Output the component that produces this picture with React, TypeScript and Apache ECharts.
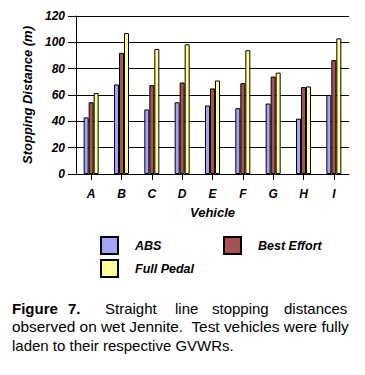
import React, { useEffect, useRef } from "react";
import * as echarts from "echarts";

const categories = ["A", "B", "C", "D", "E", "F", "G", "H", "I"];
const absValues = [43, 68, 49, 54.5, 52, 50, 53.5, 42, 60];
const bestEffortValues = [54.5, 92, 67.5, 69.5, 65, 69, 74, 66, 86.5];
const fullPedalValues = [61.5, 107, 95, 98.5, 71, 94, 77, 66.5, 103];
const yTicks = { min: 0, max: 120, interval: 20 };

const FONT = "'Liberation Sans', Arial, Helvetica, sans-serif";

export default function App() {
  const ref = useRef<HTMLDivElement>(null);
  useEffect(() => {
    document.body.style.margin = "0";
    const chart = echarts.init(ref.current!, null, { renderer: "svg" });
    const axisText = { color: "#000", fontFamily: FONT, fontSize: 12, fontWeight: "bold" as const, fontStyle: "italic" as const };
    const barBorder = { borderColor: "#000", borderWidth: 1 };
    const captionStyle = { fill: "#000", fontFamily: FONT, fontSize: 15, verticalAlign: "top" as const };
    chart.setOption({
      animation: false,
      backgroundColor: "#fff",
      grid: { left: 76, right: 16, top: 16, bottom: 201, containLabel: false },
      xAxis: {
        type: "category",
        data: categories,
        name: "Vehicle",
        nameLocation: "middle",
        nameGap: 32,
        nameTextStyle: { ...axisText, fontSize: 13 },
        axisLine: { show: true, lineStyle: { color: "#000", width: 1 } },
        axisTick: { show: true, alignWithLabel: true, length: 6, lineStyle: { color: "#000" } },
        axisLabel: { ...axisText, margin: 14 },
      },
      yAxis: {
        type: "value",
        min: yTicks.min,
        max: yTicks.max,
        interval: yTicks.interval,
        name: "Stopping Distance (m)",
        nameLocation: "middle",
        nameGap: 38,
        nameTextStyle: { ...axisText, fontSize: 13 },
        axisLine: { show: true, lineStyle: { color: "#000", width: 1 } },
        axisTick: { show: true, length: 8, lineStyle: { color: "#000" } },
        axisLabel: { ...axisText, margin: 11 },
        splitLine: { show: true, lineStyle: { color: "#000", width: 1 } },
      },
      legend: [
        {
          left: 95,
          top: 231,
          orient: "vertical",
          itemWidth: 17,
          itemHeight: 17,
          itemGap: 4,
          icon: "rect",
          data: ["ABS", "Full Pedal"],
          textStyle: { ...axisText, fontSize: 12.5, padding: [0, 0, 0, 12] },
        },
        {
          left: 218,
          top: 231,
          orient: "vertical",
          itemWidth: 17,
          itemHeight: 17,
          icon: "rect",
          data: ["Best Effort"],
          textStyle: { ...axisText, fontSize: 12.5, padding: [0, 0, 0, 12] },
        },
      ],
      series: [
        { name: "ABS", type: "bar", data: absValues, barWidth: 5, barGap: "0%", itemStyle: { color: "#A4A4F4", ...barBorder } },
        { name: "Best Effort", type: "bar", data: bestEffortValues, barWidth: 5, barGap: "0%", itemStyle: { color: "#A65252", ...barBorder } },
        { name: "Full Pedal", type: "bar", data: fullPedalValues, barWidth: 5, barGap: "0%", itemStyle: { color: "#FFFF99", ...barBorder } },
      ],
      graphic: [
        { type: "text", left: 12, top: 301, style: { ...captionStyle, text: "Figure", fontWeight: "bold" } },
        { type: "text", left: 68, top: 301, style: { ...captionStyle, text: "7.", fontWeight: "bold" } },
        { type: "text", left: 105, top: 301, style: { ...captionStyle, text: "Straight" } },
        { type: "text", left: 175, top: 301, style: { ...captionStyle, text: "line" } },
        { type: "text", left: 212, top: 301, style: { ...captionStyle, text: "stopping" } },
        { type: "text", left: 284, top: 301, style: { ...captionStyle, text: "distances" } },
        { type: "text", left: 12, top: 319, style: { ...captionStyle, fontSize: 15.4, text: "observed on wet Jennite.  Test vehicles were fully" } },
        { type: "text", left: 12, top: 338, style: { ...captionStyle, text: "laden to their respective GVWRs." } },
      ],
    });
    return () => chart.dispose();
  }, []);
  return <div ref={ref} style={{ width: 365, height: 375 }} />;
}
